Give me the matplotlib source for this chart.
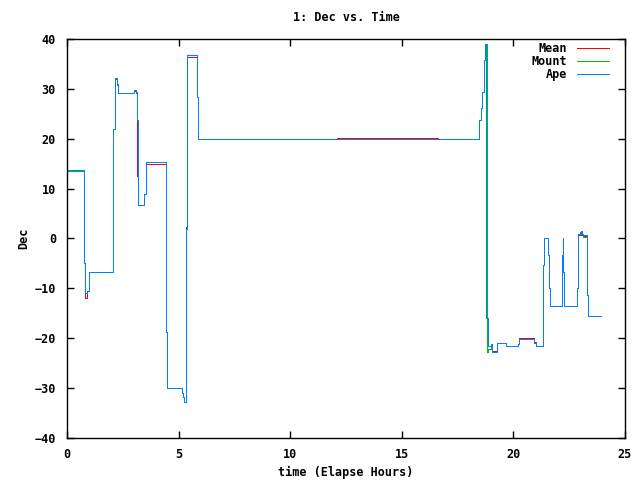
import matplotlib
matplotlib.use("Agg")
import matplotlib.pyplot as plt

# step data: (hours, dec) -- value holds until next time
ape_t = [0.0, 0.78, 0.82, 0.9, 0.98, 2.06, 2.08, 2.13, 2.24, 2.3, 3.02, 3.1, 3.15,
         3.18, 3.2, 3.43, 3.53, 4.42, 4.45, 4.49, 5.17, 5.21, 5.26, 5.35, 5.39,
         5.84, 5.88, 18.47, 18.53, 18.61, 18.68, 18.74, 18.77, 18.88, 19.0, 19.03,
         19.06, 19.25, 19.27, 19.67, 20.22, 20.26, 20.3, 20.94, 21.0, 21.31, 21.34,
         21.37, 21.56, 21.6, 21.65, 22.16, 22.21, 22.22, 22.28, 22.86, 22.91, 23.0,
         23.03, 23.07, 23.12, 23.31, 23.35, 23.91]
ape_dec = [13.8, -5.0, -11.0, -10.5, -6.8, 3.0, 22.0, 32.2, 31.0, 29.1, 29.8, 29.3, 23.7,
           13.0, 6.7, 9.0, 15.3, 3.8, -18.7, -30.0, -30.9, -31.7, -32.7, 2.0, 36.7,
           28.3, 19.9, 23.7, 26.1, 29.4, 35.8, 39.0, -16.0, -21.5, -21.2, -22.1,
           -22.7, -21.7, -21.0, -21.5, -21.2, -20.2, -20.1, -21.0, -21.5, -16.0, -5.3,
           0.2, -3.3, -10.0, -13.5, -3.3, 0.2, -6.7, -13.5, -10.0, 1.0, 1.4,
           1.6, 1.0, 0.7, -11.3, -15.5, -15.5]

mount_t = [0.0, 0.78, 0.82, 0.9, 0.98, 2.06, 2.08, 2.13, 2.24, 2.3, 3.02, 3.1, 3.15,
           3.18, 3.2, 3.43, 3.53, 4.42, 4.45, 4.49, 5.17, 5.21, 5.26, 5.35, 5.39,
           5.84, 5.88, 18.47, 18.53, 18.61, 18.68, 18.74, 18.8, 18.83, 18.86, 19.0,
           19.06, 19.25, 19.27, 19.67, 20.22, 20.26, 20.3, 20.94, 21.0, 21.31, 21.34,
           21.37, 21.56, 21.6, 21.65, 22.16, 22.21, 22.22, 22.28, 22.86, 22.91, 23.0,
           23.03, 23.12, 23.31, 23.35, 23.91]
mount_dec = [13.6, -5.0, -11.0, -10.5, -6.8, 3.0, 22.0, 32.2, 31.0, 29.1, 29.8, 29.3, 23.7,
             13.0, 6.7, 9.0, 15.3, 3.8, -18.7, -30.0, -30.9, -31.7, -32.7, 2.0, 36.7,
             28.3, 19.9, 23.7, 26.1, 29.4, 35.8, 39.0, -4.5, -22.7, -22.2, -21.5,
             -22.7, -21.7, -21.0, -21.5, -21.2, -20.2, -20.1, -21.0, -21.5, -16.0, -5.3,
             0.2, -3.3, -10.0, -13.5, -3.3, 0.2, -6.7, -13.5, -10.0, 1.0, 1.4,
             1.0, 0.3, -11.3, -15.5, -15.5]

mean_t = [0.0, 0.78, 0.82, 0.9, 0.98, 2.06, 2.08, 2.13, 2.24, 2.3, 3.02, 3.1, 3.15,
          3.18, 3.2, 3.43, 3.53, 4.42, 4.45, 4.49, 5.17, 5.21, 5.26, 5.35, 5.39,
          5.84, 5.88, 12.1, 16.63, 18.47, 18.53, 18.61, 18.68, 18.74, 18.77, 18.88,
          19.0, 19.03, 19.06, 19.25, 19.27, 19.67, 20.22, 20.26, 20.94, 21.0, 21.31,
          21.34, 21.37, 21.56, 21.6, 21.65, 22.16, 22.21, 22.22, 22.28, 22.86, 22.91,
          23.0, 23.03, 23.12, 23.31, 23.35, 23.91]
mean_dec = [13.7, -5.0, -12.0, -10.5, -6.8, 3.0, 22.0, 32.0, 30.8, 29.1, 29.6, 29.1, 12.5,
            12.5, 6.7, 9.0, 15.0, 3.8, -18.7, -30.0, -30.9, -31.7, -32.7, 2.3, 36.3,
            28.3, 19.9, 20.1, 19.9, 23.7, 26.1, 29.4, 35.8, 39.0, -16.0, -21.5,
            -21.2, -22.1, -22.5, -21.7, -21.0, -21.5, -21.2, -19.9, -20.8, -21.5, -16.0,
            -5.3, 0.2, -3.3, -10.0, -13.5, -3.3, 0.2, -6.7, -13.5, -10.0, 0.8,
            1.2, 0.7, 0.5, -11.3, -15.5, -15.5]

series = [("Mean", mean_t, mean_dec, "#ff0000"),
          ("Mount", mount_t, mount_dec, "#00c000"),
          ("Ape", ape_t, ape_dec, "#0080ff")]

font = {"family": "DejaVu Sans Mono", "weight": "bold", "size": 8.5}

fig = plt.figure(figsize=(6.4, 4.8), dpi=100)
ax = fig.add_axes([67 / 640, 42 / 480, 558 / 640, 399 / 480])

for name, t, d, c in series:
    ax.step(t, d, where="post", color=c, lw=0.72, label=name, antialiased=False)

ax.set_xlim(0, 25)
ax.set_ylim(-40, 40)
ax.set_xticks(range(0, 26, 5))
ax.set_yticks(range(-40, 41, 10))
ax.tick_params(direction="in", top=True, right=True, length=5, width=1)
ax.tick_params(axis="x", pad=7)
ax.tick_params(axis="y", pad=8)
for lab in ax.get_xticklabels() + ax.get_yticklabels():
    lab.set_fontfamily(font["family"])
    lab.set_fontweight("bold")
    lab.set_fontsize(font["size"])
for s in ax.spines.values():
    s.set_linewidth(1.0)

ax.set_title("1: Dec vs. Time", fontdict=font, pad=13)
ax.set_xlabel("time (Elapse Hours)", fontdict=font, labelpad=4)
ax.set_ylabel("Dec", fontdict=font)
ax.yaxis.set_label_coords(-0.065, 0.5)

leg = ax.legend(loc="upper right", bbox_to_anchor=(0.975, 0.998), frameon=False,
                markerfirst=False,
                prop={"family": font["family"], "weight": "bold", "size": 8.5},
                handlelength=2.7, handletextpad=0.8, labelspacing=0.0,
                borderaxespad=0.0, borderpad=0.2)
for txt in leg.get_texts():
    txt.set_ha("right")
for ln in leg.get_lines():
    ln.set_linewidth(0.72)
    ln.set_antialiased(False)

fig.savefig("out.png", dpi=100)
